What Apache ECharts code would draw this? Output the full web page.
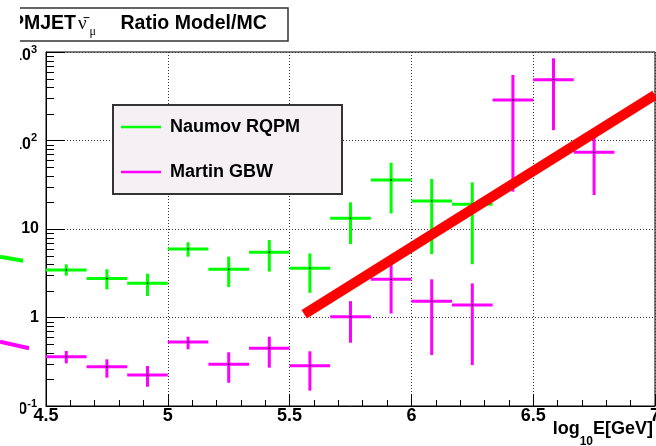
<!DOCTYPE html>
<html>
<head>
<meta charset="utf-8">
<script src="https://cdn.jsdelivr.net/npm/echarts@6/dist/echarts.min.js"></script>
<style>
  html, body { margin: 0; padding: 0; background: #fff; }
  #chart { width: 656px; height: 446px; }
</style>
</head>
<body>
<div id="chart"></div>
<script>
// ---- data ----
const binWidth = 1 / 6;
const binCenters = [4.5833, 4.75, 4.9167, 5.0833, 5.25, 5.4167, 5.5833, 5.75, 5.9167, 6.0833, 6.25, 6.4167, 6.5833, 6.75];

const naumovVal = [3.44, 2.75, 2.44, 5.94, 3.51, 5.45, 3.6, 13.2, 35.8, 20.7, 19.1];
const naumovHi  = [3.99, 3.51, 3.13, 7.08, 4.87, 7.5, 5.3, 20, 56, 36.7, 33.7];
const naumovLo  = [2.97, 2.08, 1.75, 4.87, 2.21, 3.3, 1.9, 6.76, 15, 5.2, 4.0];

const martinVal = [0.36, 0.278, 0.224, 0.528, 0.296, 0.449, 0.285, 1.02, 2.70, 1.53, 1.38, 287, 486, 73.6];
const martinHi  = [0.418, 0.337, 0.283, 0.607, 0.405, 0.607, 0.415, 1.53, 3.92, 2.7, 2.43, 550, 849, 110];
const martinLo  = [0.303, 0.209, 0.165, 0.438, 0.183, 0.271, 0.149, 0.519, 1.11, 0.377, 0.29, 26.4, 131, 24.2];

const fitX = [5.56, 7.0];
const fitY = [1.09, 327];

// stray fragments at the left edge (outside the frame)
const fragGreenX = [0, 23];
const fragGreenY = [4.86, 4.38];
const fragMagX = [0, 29];
const fragMagY = [0.533, 0.449];

const xTickLabels = ['4.5', '5', '5.5', '6', '6.5', '7'];
const yTickLabels = [['10', '-1'], ['1', ''], ['10', ''], ['10', '2'], ['10', '3']];
const yDecades = [0.1, 1, 10, 100];
const yMinorMult = [2, 3, 4, 5, 6, 7, 8, 9];

// ---- build ----
const lg = v => Math.log10(v);
const X_MIN = 4.5, X_MAX = 7;
function crossData(vals, lo, hi) {
  return vals.map((v, i) => [binCenters[i], lg(v), lg(lo[i]), lg(hi[i])]);
}
const half = binWidth / 2;
function renderCross(params, api) {
  const x = api.value(0), y = api.value(1), lo = api.value(2), hi = api.value(3);
  const pL = api.coord([x - half, y]);
  const pR = api.coord([x + half, y]);
  const pLo = api.coord([x, lo]);
  const pHi = api.coord([x, hi]);
  const pC = api.coord([x, y]);
  const color = api.visual('color');
  const st = { stroke: color, lineWidth: 3 };
  return {
    type: 'group',
    children: [
      { type: 'line', shape: { x1: pL[0], y1: pL[1], x2: pR[0], y2: pR[1] }, style: st },
      { type: 'line', shape: { x1: pLo[0], y1: pLo[1], x2: pHi[0], y2: pHi[1] }, style: st },
      { type: 'rect', shape: { x: pC[0] - 0.75, y: pC[1] - 0.75, width: 1.5, height: 1.5 }, style: { fill: '#000' } }
    ]
  };
}
// log minor ticks on the y axis (inside, pointing right)
const minorTickData = [];
yDecades.forEach(d => yMinorMult.forEach(k => minorTickData.push([X_MIN, lg(k * d)])));
function renderMinorTick(params, api) {
  const p = api.coord([api.value(0), api.value(1)]);
  const y = Math.round(p[1]) + 0.5;
  return { type: 'line', shape: { x1: p[0], y1: y, x2: p[0] + 8, y2: y }, style: { stroke: '#000', lineWidth: 1 } };
}

const GREEN = '#00ff00', MAGENTA = '#ff00ff', RED = '#ff0000';
const FONT = 'Liberation Sans';

const chart = echarts.init(document.getElementById('chart'), null, { renderer: 'canvas' });
chart.setOption({
  animation: false,
  backgroundColor: '#ffffff',
  textStyle: { fontFamily: FONT },
  grid: [
    { left: 46, right: 1, top: 52, bottom: 40, outerBoundsMode: 'none', containLabel: false, show: true, borderColor: '#000', borderWidth: 1, backgroundColor: 'transparent' },
    { left: 0, top: 52, width: 46, height: 354, outerBoundsMode: 'none', show: false }
  ],
  xAxis: [
    {
      type: 'value', gridIndex: 0, min: X_MIN, max: X_MAX, interval: 0.5,
      axisLine: { show: true, onZero: false, lineStyle: { color: '#000', width: 1 } },
      axisTick: { show: true, inside: true, length: 12, lineStyle: { color: '#000' } },
      minorTick: { show: true, splitNumber: 5, length: 6, lineStyle: { color: '#000' } },
      splitLine: { show: true, lineStyle: { color: '#333', type: [1, 2], width: 1 } },
      axisLabel: {
        margin: 1, fontSize: 18, fontWeight: 'bold', color: '#000', fontFamily: FONT,
        showMinLabel: true, showMaxLabel: true, hideOverlap: false,
        formatter: v => xTickLabels[Math.round((v - X_MIN) / 0.5)]
      }
    },
    { type: 'value', gridIndex: 1, min: 0, max: 46, show: false }
  ],
  yAxis: [
    {
      type: 'value', gridIndex: 0, min: -1, max: 3, interval: 1,
      axisLine: { show: true, onZero: false, lineStyle: { color: '#000', width: 1 } },
      axisTick: { show: true, inside: true, length: 19, lineStyle: { color: '#000' } },
      splitLine: { show: true, lineStyle: { color: '#333', type: [1, 2], width: 1 } },
      axisLabel: {
        margin: 7, color: '#000', fontFamily: FONT, showMinLabel: true, showMaxLabel: true,
        formatter: v => {
          const t = yTickLabels[Math.round(v + 1)];
          return t[1] ? '{n|' + t[0] + '}{sup|' + t[1] + '}' : '{p|' + t[0] + '}';
        },
        rich: {
          n: { fontSize: 16, fontWeight: 'bold', lineHeight: 16, padding: [4, 0, 0, 0], verticalAlign: 'top', color: '#000', fontFamily: FONT },
          sup: { fontSize: 11, fontWeight: 'bold', lineHeight: 11, padding: [0, 2, 0, 0], verticalAlign: 'top', color: '#000', fontFamily: FONT },
          p: { fontSize: 16, fontWeight: 'bold', lineHeight: 16, color: '#000', fontFamily: FONT }
        }
      }
    },
    { type: 'value', gridIndex: 1, min: -1, max: 3, show: false }
  ],
  legend: {
    left: 121, top: 117, orient: 'vertical', padding: 0,
    itemWidth: 40, itemHeight: 2.5, itemGap: 25,
    selectedMode: false,
    textStyle: { fontSize: 18, fontWeight: 'bold', color: '#000', fontFamily: FONT, lineHeight: 20, padding: [0, 0, 0, 4] },
    data: [{ name: 'Naumov RQPM', icon: 'rect' }, { name: 'Martin GBW', icon: 'rect' }]
  },
  graphic: [
    { type: 'rect', z: 3, shape: { x: 113, y: 105, width: 229, height: 89 }, style: { fill: '#f4f0f4', stroke: '#333', lineWidth: 2 } },
    { type: 'rect', z: 3, shape: { x: -10, y: 8, width: 298, height: 33 }, style: { fill: '#fff', stroke: '#333', lineWidth: 1.5 } },
    { type: 'text', z: 4, style: { text: 'PMJET', x: 11, y: 24, verticalAlign: 'middle', fontSize: 19.5, fontWeight: 'bold', fontFamily: FONT, fill: '#000' } },
    { type: 'text', z: 4, style: { text: 'ν\u0304', x: 78, y: 24, verticalAlign: 'middle', fontSize: 19, fontFamily: 'Liberation Serif', fill: '#000' } },
    { type: 'text', z: 4, style: { text: 'μ', x: 89.5, y: 32, verticalAlign: 'middle', fontSize: 12, fontFamily: 'Liberation Serif', fill: '#000' } },
    { type: 'text', z: 4, style: { text: 'Ratio Model/MC', x: 120.5, y: 24, verticalAlign: 'middle', fontSize: 19.5, fontWeight: 'bold', fontFamily: FONT, fill: '#000' } },
    { type: 'rect', z: 5, shape: { x: 0, y: 0, width: 20, height: 446 }, style: { fill: '#fff' } },
    {
      type: 'text', z: 4,
      style: {
        text: '{m|log}{s|10}{m|E[GeV]}', x: 653, y: 420, align: 'right', verticalAlign: 'top', fill: '#000',
        rich: {
          m: { fontSize: 18, fontWeight: 'bold', lineHeight: 18, verticalAlign: 'top', fontFamily: FONT, fill: '#000' },
          s: { fontSize: 12, fontWeight: 'bold', lineHeight: 12, padding: [16, 0, 0, 0], verticalAlign: 'top', fontFamily: FONT, fill: '#000' }
        }
      }
    }
  ],
  series: [
    {
      type: 'custom', xAxisIndex: 0, yAxisIndex: 0, clip: false, silent: true,
      renderItem: renderMinorTick, data: minorTickData, z: 1
    },
    {
      name: 'Naumov RQPM', type: 'custom', xAxisIndex: 0, yAxisIndex: 0, clip: true,
      itemStyle: { color: GREEN }, renderItem: renderCross,
      data: crossData(naumovVal, naumovLo, naumovHi), z: 2
    },
    {
      name: 'Martin GBW', type: 'custom', xAxisIndex: 0, yAxisIndex: 0, clip: true,
      itemStyle: { color: MAGENTA }, renderItem: renderCross,
      data: crossData(martinVal, martinLo, martinHi), z: 2
    },
    {
      type: 'line', xAxisIndex: 0, yAxisIndex: 0, symbol: 'none', silent: true, clip: true,
      lineStyle: { color: RED, width: 10 },
      data: fitX.map((x, i) => [x, lg(fitY[i])]), z: 3
    },
    {
      type: 'line', xAxisIndex: 1, yAxisIndex: 1, symbol: 'none', silent: true, clip: false,
      lineStyle: { color: GREEN, width: 4 },
      data: fragGreenX.map((x, i) => [x, lg(fragGreenY[i])]), z: 10
    },
    {
      type: 'line', xAxisIndex: 1, yAxisIndex: 1, symbol: 'none', silent: true, clip: false,
      lineStyle: { color: MAGENTA, width: 4 },
      data: fragMagX.map((x, i) => [x, lg(fragMagY[i])]), z: 10
    }
  ]
});
</script>
</body>
</html>
